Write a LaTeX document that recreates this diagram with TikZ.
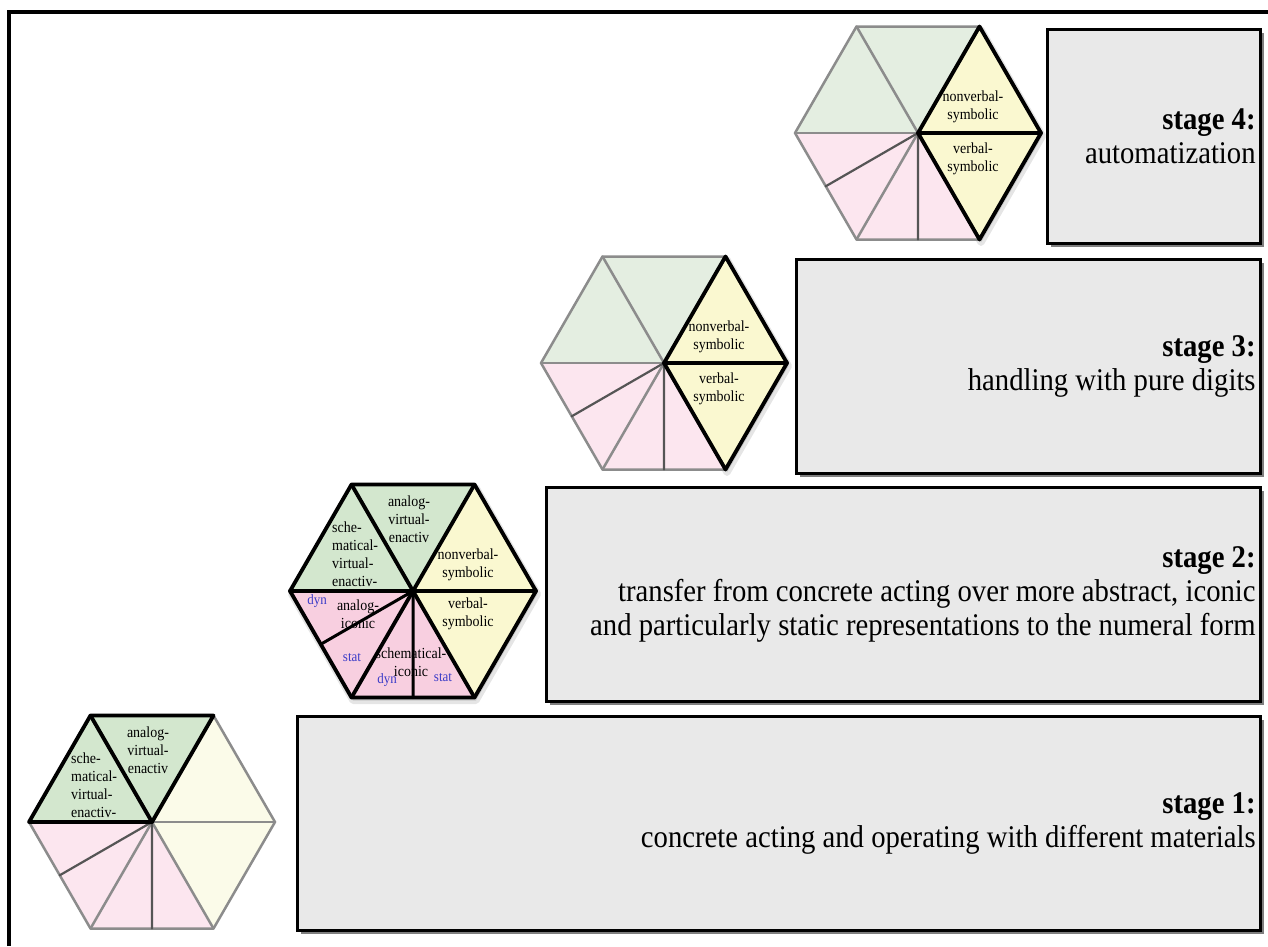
\documentclass[tikz,border=0pt]{standalone}
\usepackage{fontspec}
\setmainfont{Liberation Serif}
\usetikzlibrary{shadows}
\definecolor{gH}{HTML}{D3E7CE}
\definecolor{gF}{HTML}{E4EEE1}
\definecolor{yH}{HTML}{FAF8D0}
\definecolor{yF}{HTML}{FBFBE9}
\definecolor{pH}{HTML}{F8CFE0}
\definecolor{pF}{HTML}{FCE6EF}
\definecolor{boxfill}{HTML}{E9E9E9}
\definecolor{edgegray}{HTML}{8C8C8C}
\definecolor{subgray}{HTML}{555555}
\definecolor{tagblue}{HTML}{3C3CC8}

\newcommand{\mkhex}[3]{%
  \coordinate (#1c) at (#2,#3);
  \coordinate (#1v0) at ({#2+123},{#3});
  \coordinate (#1v1) at ({#2+61.5},{#3-106.5});
  \coordinate (#1v2) at ({#2-61.5},{#3-106.5});
  \coordinate (#1v3) at ({#2-123},{#3});
  \coordinate (#1v4) at ({#2-61.5},{#3+106.5});
  \coordinate (#1v5) at ({#2+61.5},{#3+106.5});
  \coordinate (#1m34) at ({#2-92.25},{#3+53.25});
  \coordinate (#1m45) at ({#2},{#3+106.5});
}
\newcommand{\fillhex}[4]{%
  \fill[#2] (#1c)--(#1v1)--(#1v2)--(#1v3)--cycle;
  \fill[#3] (#1c)--(#1v5)--(#1v0)--(#1v1)--cycle;
  \fill[#4] (#1c)--(#1v3)--(#1v4)--(#1v5)--cycle;
}
\newcommand{\gridhex}[3]{%
  \draw[#2] (#1v0)--(#1v1)--(#1v2)--(#1v3)--(#1v4)--(#1v5)--cycle;
  \foreach \k in {0,...,5} \draw[#2] (#1c)--(#1v\k);
  \draw[#3] (#1c)--(#1m34) (#1c)--(#1m45);
}
\newcommand{\sh}[1]{([shift={(1.5pt,-3pt)}]#1)}
\newcommand{\hexshadow}[1]{%
  \fill[black, opacity=0.12] \sh{#1v0}--\sh{#1v1}--\sh{#1v2}--\sh{#1v3}--\sh{#1v4}--\sh{#1v5}--cycle;
  \draw[black, opacity=0.10, line width=7pt, line join=round] \sh{#1v0}--\sh{#1v1}--\sh{#1v2}--\sh{#1v3}--\sh{#1v4}--\sh{#1v5}--cycle;
}
\newcommand{\rhombshadow}[1]{%
  \fill[black, opacity=0.12] \sh{#1c}--\sh{#1v5}--\sh{#1v0}--\sh{#1v1}--cycle;
  \draw[black, opacity=0.10, line width=7pt, line join=round] \sh{#1c}--\sh{#1v5}--\sh{#1v0}--\sh{#1v1}--cycle;
}

\tikzset{
  hexedge/.style={draw=edgegray, line width=2.5pt, line join=round, line cap=round},
  hexsub/.style={draw=subgray, line width=2.2pt, line cap=round},
  hexhl/.style={draw=black, line width=3.8pt, line join=round, line cap=round},
  hexhlsub/.style={draw=black, line width=3pt, line cap=round},
  stagebox/.style={draw=black, line width=2.8pt, fill=boxfill, inner sep=0pt,
    drop shadow={shadow xshift=3.5pt, shadow yshift=-3.5pt, opacity=0.5, fill=black}},
  stagetext/.style={font=\fontsize{28.7}{30.9}\selectfont, align=right, inner sep=0pt, anchor=east, yscale=1.1, transform shape},
  hexlabel/.style={font=\fontsize{14}{16.4}\selectfont, align=center, inner sep=0pt, yscale=1.1, transform shape},
  taglabel/.style={font=\fontsize{13}{15}\selectfont, text=tagblue, inner sep=0pt, yscale=1.1, transform shape},
}

\begin{document}
\begin{tikzpicture}[x=1pt, y=-1pt]
\useasboundingbox (0,0) rectangle (1268,946);
\fill[white] (0,0) rectangle (1268,946);

% outer frame
\draw[line width=3.2pt] (9,946) -- (9,12) -- (1268,12);

% stage boxes
\node[stagebox, minimum width=963pt, minimum height=214pt, anchor=north west] (b1) at (296,715) {};
\node[stagebox, minimum width=714pt, minimum height=214pt, anchor=north west] (b2) at (545,486) {};
\node[stagebox, minimum width=464pt, minimum height=214pt, anchor=north west] (b3) at (795,258) {};
\node[stagebox, minimum width=213pt, minimum height=214pt, anchor=north west] (b4) at (1046,28) {};

\node[stagetext] (t1) at ([xshift=-6pt]b1.east) {\textbf{stage 1:}\\concrete acting and operating with different materials};
\node[stagetext] (t2) at ([xshift=-6pt]b2.east) {\textbf{stage 2:}\\transfer from concrete acting over more abstract, iconic\\and particularly static representations to the numeral form};
\node[stagetext] (t3) at ([xshift=-6pt]b3.east) {\textbf{stage 3:}\\handling with pure digits};
\node[stagetext] (t4) at ([xshift=-6pt]b4.east) {\textbf{stage 4:}\\automatization};

% hexagon coordinates
\mkhex{h1}{152}{822}
\mkhex{h2}{413}{591}
\mkhex{h3}{664}{363}
\mkhex{h4}{918}{133}

% hexagon 1 (stage 1)
\fillhex{h1}{gH}{yF}{pF}
\gridhex{h1}{hexedge}{hexsub}
\draw[hexhl] (h1c)--(h1v1)--(h1v2)--(h1v3)--cycle;
\draw[hexhl] (h1c)--(h1v2);

% hexagon 2 (stage 2)
\hexshadow{h2}
\fillhex{h2}{gH}{yH}{pH}
\gridhex{h2}{hexhl}{hexhlsub}

% hexagon 3 (stage 3)
\rhombshadow{h3}
\fillhex{h3}{gF}{yH}{pF}
\gridhex{h3}{hexedge}{hexsub}
\draw[hexhl] (h3c)--(h3v5)--(h3v0)--(h3v1)--cycle;
\draw[hexhl] (h3c)--(h3v0);

% hexagon 4 (stage 4)
\rhombshadow{h4}
\fillhex{h4}{gF}{yH}{pF}
\gridhex{h4}{hexedge}{hexsub}
\draw[hexhl] (h4c)--(h4v5)--(h4v0)--(h4v1)--cycle;
\draw[hexhl] (h4c)--(h4v0);

% labels hexagon 1
\node[hexlabel] (l1a) at (148,750) {analog-\\virtual-\\enactiv};
\node[hexlabel, align=left, anchor=west] (l1b) at (71,785) {sche-\\matical-\\virtual-\\enactiv-};

% labels hexagon 2
\node[hexlabel] (l2a) at (409,519) {analog-\\virtual-\\enactiv};
\node[hexlabel, align=left, anchor=west] (l2b) at (332,554) {sche-\\matical-\\virtual-\\enactiv-};
\node[hexlabel] (l2c) at (468,565) {nonverbal-\\symbolic};
\node[hexlabel] (l2d) at (468,614) {verbal-\\symbolic};
\node[taglabel] (l2e) at (317,601) {dyn};
\node[hexlabel] (l2f) at (358,614) {analog-\\iconic};
\node[taglabel] (l2g) at (352,658) {stat};
\node[hexlabel] (l2h) at (411,662) {schematical-\\iconic};
\node[taglabel] (l2i) at (387,680) {dyn};
\node[taglabel] (l2j) at (443,678) {stat};

% labels hexagon 3
\node[hexlabel] (l3a) at (719,337) {nonverbal-\\symbolic};
\node[hexlabel] (l3b) at (719,389) {verbal-\\symbolic};

% labels hexagon 4
\node[hexlabel] (l4a) at (973,107) {nonverbal-\\symbolic};
\node[hexlabel] (l4b) at (973,159) {verbal-\\symbolic};
\end{tikzpicture}
\end{document}
